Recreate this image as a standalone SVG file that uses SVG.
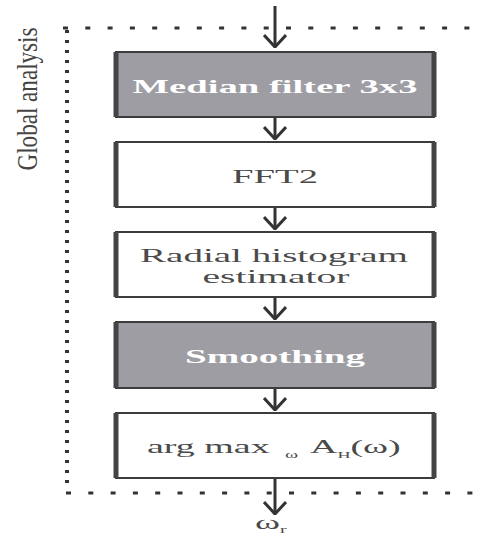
<svg xmlns="http://www.w3.org/2000/svg" width="480" height="535" viewBox="0 0 480 535">
<style>
.box{stroke:#3c3c3c;stroke-width:2}
.side{stroke:#444;stroke-width:5;fill:none}
.gray{fill:#9d9da3}
.white{fill:#ffffff}
.lbl{font-family:"Liberation Serif","Times New Roman",serif;font-size:18px;fill:#4a4a4a}
.lblw{font-family:"Liberation Serif","Times New Roman",serif;font-size:19px;font-weight:bold;fill:#ffffff}
.side-lbl{font-family:"Liberation Serif","Times New Roman",serif;font-size:30px;fill:#444}
.conn{stroke:#333;stroke-width:3;fill:none}
.dotH{stroke:#333;stroke-width:3;stroke-dasharray:5 17.3;fill:none}
.dotV{stroke:#333;stroke-width:4;stroke-dasharray:3 7;fill:none}
</style>
<defs>
<marker id="chev" viewBox="0 0 14 24" refX="13" refY="12" markerWidth="14" markerHeight="24" markerUnits="userSpaceOnUse" orient="auto">
<path d="M1,1 L13,12 L1,23" fill="none" stroke="#333" stroke-width="3"/>
</marker>
</defs>
<rect width="480" height="535" fill="#ffffff"/>

<g id="frame">
<path class="dotH" d="M63,28 H480"/>
<path class="dotH" d="M66,493 H480"/>
<path class="dotV" d="M67,30 V490"/>
<text class="side-lbl" transform="translate(37,99) rotate(-90)" text-anchor="middle" textLength="143" lengthAdjust="spacingAndGlyphs">Global analysis</text>
</g>

<g id="connectors">
<path class="conn" d="M275,6 V47" marker-end="url(#chev)"/>
<path class="conn" d="M275,117 V139" marker-end="url(#chev)"/>
<path class="conn" d="M275,207 V229" marker-end="url(#chev)"/>
<path class="conn" d="M275,297 V319" marker-end="url(#chev)"/>
<path class="conn" d="M275,388 V410" marker-end="url(#chev)"/>
<path class="conn" d="M275,478 V514" marker-end="url(#chev)"/>
</g>

<g id="median">
<rect class="box gray" x="116" y="52" width="318" height="65"/>
<path class="side" d="M116,52 V117 M434,52 V117"/>
<text class="lblw" x="275" y="92.5" text-anchor="middle" textLength="285" lengthAdjust="spacingAndGlyphs">Median filter 3x3</text>
</g>

<g id="fft2">
<rect class="box white" x="116" y="142" width="318" height="65"/>
<path class="side" d="M116,142 V207 M434,142 V207"/>
<text class="lbl" x="275" y="183" text-anchor="middle" textLength="86" lengthAdjust="spacingAndGlyphs">FFT2</text>
</g>

<g id="radial">
<rect class="box white" x="116" y="232" width="318" height="65"/>
<path class="side" d="M116,232 V297 M434,232 V297"/>
<text class="lbl" x="274" y="262" text-anchor="middle" textLength="268" lengthAdjust="spacingAndGlyphs">Radial histogram</text>
<text class="lbl" x="276" y="283" text-anchor="middle" textLength="147" lengthAdjust="spacingAndGlyphs">estimator</text>
</g>

<g id="smoothing">
<rect class="box gray" x="116" y="322" width="318" height="66"/>
<path class="side" d="M116,322 V388 M434,322 V388"/>
<text class="lblw" x="275" y="363" text-anchor="middle" textLength="180" lengthAdjust="spacingAndGlyphs">Smoothing</text>
</g>

<g id="argmax">
<rect class="box white" x="116" y="413" width="318" height="65"/>
<path class="side" d="M116,413 V478 M434,413 V478"/>
<text class="lbl" transform="translate(147,453) scale(2,1)" style="font-size:19px">arg max<tspan x="69" dy="5" style="font-size:10px">ω</tspan><tspan x="81.5" dy="-5">A</tspan><tspan dy="5" style="font-size:9px">H</tspan><tspan dy="-5">(ω)</tspan></text>
</g>

<g id="output">
<text class="lbl" transform="translate(255,529) scale(2,1)" style="font-size:19px">ω<tspan dy="4" style="font-size:10px">r</tspan></text>
</g>
</svg>
